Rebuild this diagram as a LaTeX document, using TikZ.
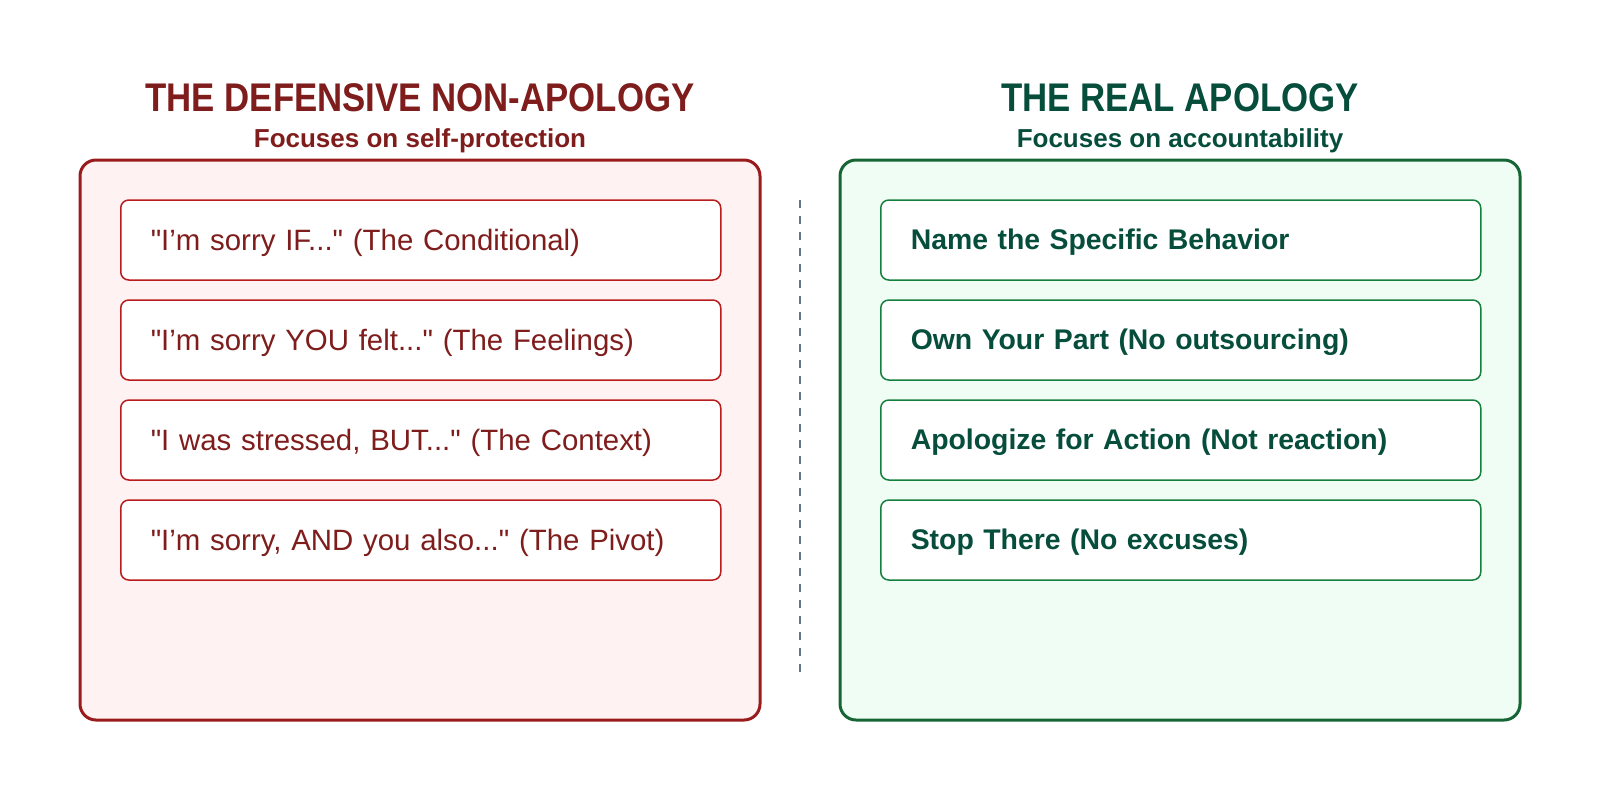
\documentclass[tikz,border=0pt]{standalone}
\usepackage{fontspec}
\setmainfont{Liberation Sans}
\newfontfamily\plainsans{Liberation Sans}
\usepackage{tikz}
\usetikzlibrary{positioning}
\definecolor{badtext}{HTML}{7F1D1D}
\definecolor{badline}{HTML}{991B1B}
\definecolor{baditem}{HTML}{B91C1C}
\definecolor{badfill}{HTML}{FEF2F2}
\definecolor{goodtext}{HTML}{064E3B}
\definecolor{goodline}{HTML}{166534}
\definecolor{gooditem}{HTML}{15803D}
\definecolor{goodfill}{HTML}{F0FDF4}
\definecolor{divider}{HTML}{64748B}
\newcommand{\squeeze}[1]{\scalebox{0.87}[1]{#1}}
\tikzset{
  every picture/.style={line join=round, line cap=round},
  panel/.style={rounded corners=8pt, line width=1.5pt, inner sep=0pt,
    minimum width=340pt, minimum height=280pt},
  itembox/.style={rounded corners=4pt, line width=0.75pt, fill=white, anchor=west,
    inner xsep=15pt, inner ysep=0pt, text width=270pt, minimum height=40pt,
    text depth=0.5pt, align=left},
  heading/.style={font=\bfseries\fontsize{20}{24}\selectfont},
  subheading/.style={font=\bfseries\fontsize{13}{16}\selectfont},
}

\begin{document}
\begin{tikzpicture}[x=0.5pt,y=-0.5pt]
\useasboundingbox (0,0) rectangle (1600,800);
% left side
\node[panel, draw=badline, fill=badfill] (badpanel) at (420,440) {};
\node[heading, text=badtext] (badtitle) at (420,98) {\squeeze{THE DEFENSIVE NON-APOLOGY}};
\node[subheading, text=badtext] (badsub) at (420,141) {Focuses on self-protection};
\foreach \i/\txt in {1/{"I’m sorry IF..." (The Conditional)},
                     2/{"I’m sorry YOU felt..." (The Feelings)},
                     3/{"I was stressed, BUT..." (The Context)},
                     4/{"I’m sorry, AND you also..." (The Pivot)}}{
  \node[itembox, draw=baditem, text=badtext, font=\plainsans\fontsize{14.7}{17}\selectfont]
    (bad\i) at (120,{140+100*\i}) {\txt};
}
% right side
\node[panel, draw=goodline, fill=goodfill] (goodpanel) at (1180,440) {};
\node[heading, text=goodtext] (goodtitle) at (1180,98) {\squeeze{THE REAL APOLOGY}};
\node[subheading, text=goodtext] (goodsub) at (1180,141) {Focuses on accountability};
\foreach \i/\txt in {1/{Name the Specific Behavior},
                     2/{Own Your Part (No outsourcing)},
                     3/{Apologize for Action (Not reaction)},
                     4/{Stop There (No excuses)}}{
  \node[itembox, draw=gooditem, text=goodtext, font=\bfseries\fontsize{14.2}{17}\selectfont]
    (good\i) at (880,{140+100*\i}) {\txt};
}
% divider
\coordinate (divtop) at (800,200);
\coordinate (divbot) at (800,672);
\draw[divider, line width=0.75pt, line cap=butt, dash pattern=on 4pt off 4pt] (divtop) -- (divbot);
\end{tikzpicture}
\end{document}
